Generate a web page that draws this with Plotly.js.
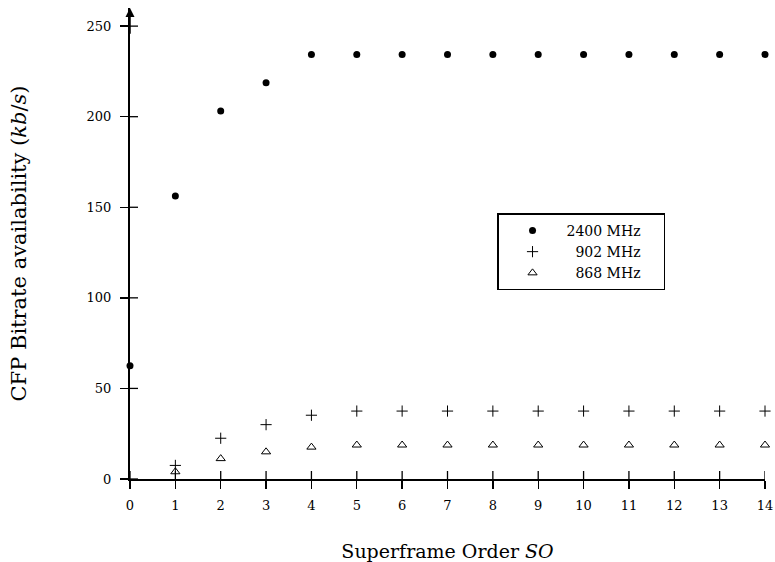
<!DOCTYPE html>
<html>
<head>
<meta charset="utf-8">
<script src="https://cdn.plot.ly/plotly-3.0.1.min.js"></script>
<style>html,body{margin:0;padding:0;background:#fff;}#chart{width:775px;height:562px;}</style>
</head>
<body>
<div id="chart"></div>
<script>
const superframeOrder = [0,1,2,3,4,5,6,7,8,9,10,11,12,13,14];
const rate2400 = [62.5,156.25,203.125,218.75,234.375,234.375,234.375,234.375,234.375,234.375,234.375,234.375,234.375,234.375,234.375];
const so902 = [1,2,3,4,5,6,7,8,9,10,11,12,13,14];
const rate902 = [7.5,22.5,30,35.2,37.5,37.5,37.5,37.5,37.5,37.5,37.5,37.5,37.5,37.5];
const so868 = [1,2,3,4,5,6,7,8,9,10,11,12,13,14];
const rate868 = [4,11.25,15,17.6,18.75,18.75,18.75,18.75,18.75,18.75,18.75,18.75,18.75,18.75];
const seriesNames = ['2400 MHz\u00a0\u00a0\u00a0\u00a0','\u00a0\u00a0902 MHz\u00a0\u00a0\u00a0\u00a0','\u00a0\u00a0868 MHz\u00a0\u00a0\u00a0\u00a0'];
const yTicks = [0,50,100,150,200,250];

const FONT = 'DejaVu Serif, serif';
const W = 775, H = 562, M = {l: 130, r: 10, t: 8, b: 83};
const xRange = [0, 14], yRange = [0, 260];
const TICK = 8; // px, each side of the axis
const xUnitsPerPx = (xRange[1] - xRange[0]) / (W - M.l - M.r);
const yUnitsPerPx = (yRange[1] - yRange[0]) / (H - M.t - M.b);

// inner half of the crossing ticks (outer half is drawn by the axes themselves)
const innerX = [], innerY = [];
superframeOrder.forEach(v => { innerX.push(v, v, null); innerY.push(yRange[0], yRange[0] + TICK * yUnitsPerPx, null); });
yTicks.forEach(v => { innerX.push(xRange[0], xRange[0] + TICK * xUnitsPerPx, null); innerY.push(v, v, null); });

const traces = [
  {x: innerX, y: innerY, mode: 'lines', type: 'scatter', line: {color: '#000', width: 1.3},
   showlegend: false, hoverinfo: 'skip', connectgaps: false},
  {x: superframeOrder, y: rate2400, name: seriesNames[0], mode: 'markers', type: 'scatter', cliponaxis: false,
   marker: {symbol: 'circle', size: 7, color: '#000'}},
  {x: so902, y: rate902, name: seriesNames[1], mode: 'markers', type: 'scatter', cliponaxis: false,
   marker: {symbol: 'cross-thin-open', size: 8, color: '#000', line: {width: 1, color: '#000'}}},
  {x: so868, y: rate868, name: seriesNames[2], mode: 'markers', type: 'scatter', cliponaxis: false,
   marker: {symbol: 'triangle-up-open', size: 8, color: '#000', line: {width: 1, color: '#000'}}}
];

const layout = {
  width: W, height: H,
  margin: M,
  paper_bgcolor: '#fff', plot_bgcolor: '#fff',
  font: {family: FONT, size: 13, color: '#000'},
  showlegend: true,
  xaxis: {
    range: xRange, tickvals: superframeOrder, ticktext: superframeOrder.map(String),
    showgrid: false, zeroline: false, showline: true, linecolor: '#000', linewidth: 2,
    ticks: 'outside', ticklen: TICK, tickwidth: 1.3, tickcolor: '#000',
    tickfont: {family: FONT, size: 13}, ticklabelstandoff: 5,
    title: {text: 'Superframe Order <i>SO</i>', font: {family: FONT, size: 19}, standoff: 34}
  },
  yaxis: {
    range: yRange, tickvals: yTicks, ticktext: yTicks.map(String),
    showgrid: false, zeroline: false, showline: true, linecolor: '#000', linewidth: 2,
    ticks: 'outside', ticklen: TICK, tickwidth: 1.3, tickcolor: '#000',
    tickfont: {family: FONT, size: 13}, ticklabelstandoff: 6,
    title: {text: 'CFP Bitrate availability (<i>kb</i>/<i>s</i>)', font: {family: FONT, size: 21}, standoff: 54}
  },
  legend: {
    x: 0.578, y: 0.564, xanchor: 'left', yanchor: 'top',
    bgcolor: '#fff', bordercolor: '#000', borderwidth: 1.5, itemwidth: 58,
    font: {family: FONT, size: 14, color: '#000'}
  },
  annotations: [{
    x: 0, y: 260, ax: 0, ay: 245, xref: 'x', yref: 'y', axref: 'x', ayref: 'y',
    text: '', showarrow: true, arrowhead: 2, arrowsize: 1.2, arrowwidth: 1.5, arrowcolor: '#000'
  }]
};

Plotly.newPlot('chart', traces, layout, {displayModeBar: false, staticPlot: true});
</script>
</body>
</html>
